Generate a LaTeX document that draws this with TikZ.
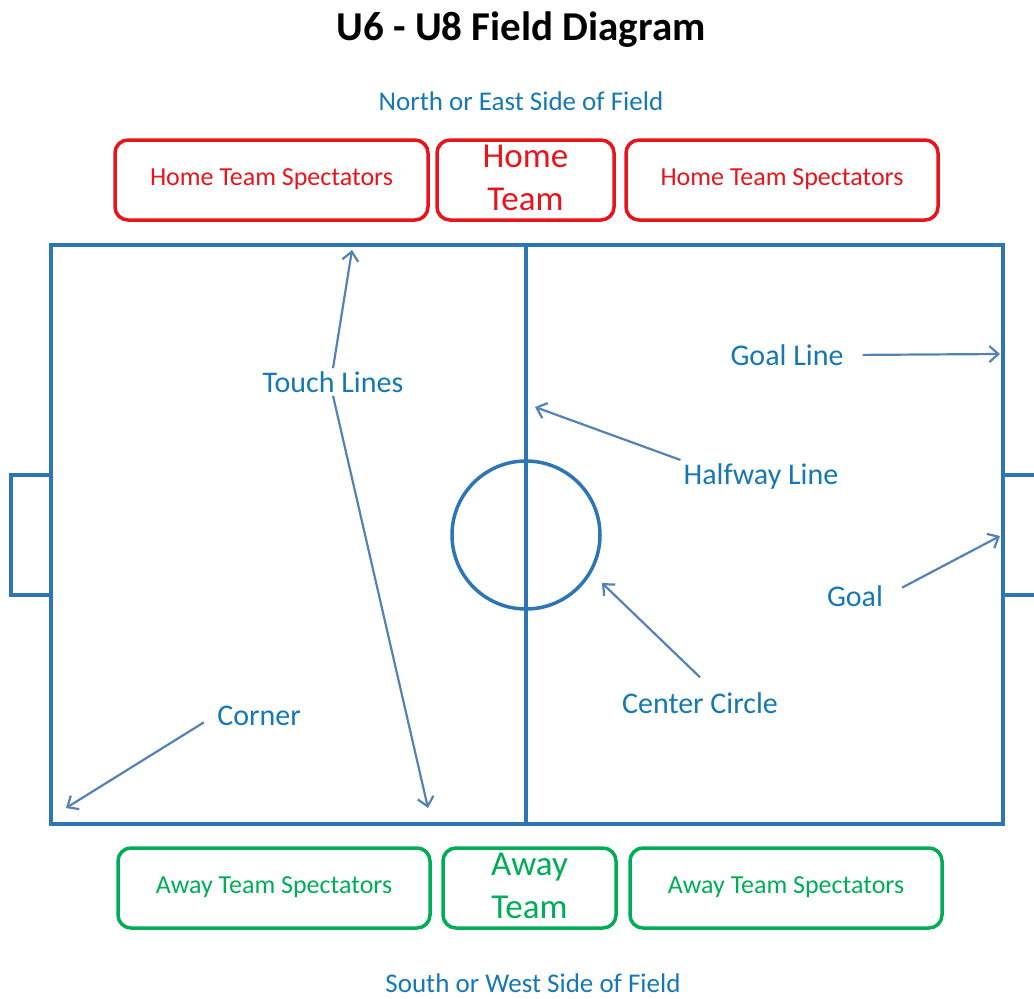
\documentclass[tikz,border=0pt]{standalone}
\usepackage{fontspec}
\setmainfont{Carlito}
\usetikzlibrary{arrows.meta}
\definecolor{fieldblue}{RGB}{46,117,182}
\definecolor{arrowblue}{RGB}{84,130,180}
\definecolor{labelblue}{RGB}{22,120,178}
\definecolor{homered}{RGB}{232,20,28}
\definecolor{awaygreen}{RGB}{0,172,86}
\tikzset{
  fieldline/.style={draw=fieldblue,line width=3.5pt},
  pointer/.style={arrowblue,line width=2.2pt,-{Straight Barb[length=9pt,width=16pt,line width=2.2pt]}},
  lbl/.style={text=labelblue,font=\fontsize{30}{32}\selectfont,inner sep=3pt},
  side/.style={text=labelblue,font=\fontsize{27}{30}\selectfont},
  stand/.style={rounded corners=13pt,line width=3.5pt,minimum height=80pt,text depth=5pt,font=\fontsize{26}{28}\selectfont},
  bench/.style={stand,font=\fontsize{35}{43}\selectfont,align=center,inner sep=0pt},
}
\begin{document}
\begin{tikzpicture}[x=1pt,y=-1pt]
\useasboundingbox (0,0) rectangle (1034,999);

\node[font=\bfseries\fontsize{41}{44}\selectfont] (title) at(521,30){U6 - U8 Field Diagram};
\node[side] (north) at(521,101){North or East Side of Field};
\node[side] (south) at(533,983){South or West Side of Field};

\node[stand,draw=homered,text=homered,minimum width=313pt] (homeL) at(271.5,180){Home Team Spectators};
\node[bench,draw=homered,text=homered,minimum width=177pt] (home) at(525.5,180){Home\\Team};
\node[stand,draw=homered,text=homered,minimum width=312pt] (homeR) at(782,180){Home Team Spectators};

\node[stand,draw=awaygreen,text=awaygreen,minimum width=312pt] (awayL) at(274,888){Away Team Spectators};
\node[bench,draw=awaygreen,text=awaygreen,minimum width=173pt] (away) at(529.5,888){Away\\Team};
\node[stand,draw=awaygreen,text=awaygreen,minimum width=312pt] (awayR) at(786,888){Away Team Spectators};

\begin{scope}
\clip (0,0) rectangle (1034,999);
\draw[fieldline](51,245) rectangle (1003,824);
\draw[fieldline](526,245)--(526,824);
\draw[fieldline](526,535) circle[radius=74];
\draw[fieldline](51,475)--(11,475)--(11,595)--(51,595);
\draw[fieldline](1003,475)--(1045,475);
\draw[fieldline](1003,595)--(1045,595);
\end{scope}

\coordinate (touchtop) at(352,250);
\coordinate (touchbot) at(428,808);
\coordinate (goallinept) at(1000,354);
\coordinate (halfwaypt) at(535,407);
\coordinate (goalpt) at(1000,536);
\coordinate (circlept) at(602,583);
\coordinate (cornerpt) at(66,808);

\node[lbl] (touch) at(333,382){Touch Lines};
\node[lbl] (goalline) at(787,355){Goal Line};
\node[lbl] (halfway) at(761,476){Halfway Line};
\node[lbl] (goal) at(855,596){Goal};
\node[lbl] (centre) at(700,703){Center Circle};
\node[lbl] (corner) at(259,716){Corner};

\draw[pointer](touch.north)--(touchtop);
\draw[pointer](touch.south)--(touchbot);
\draw[pointer,shorten <=16pt](goalline.east)--(goallinept);
\draw[pointer](halfway.north west)--(halfwaypt);
\draw[pointer,shorten <=18pt](goal.east)--(goalpt);
\draw[pointer]([yshift=12pt]centre.north)--(circlept);
\draw[pointer,shorten <=12pt](corner.west)--(cornerpt);
\end{tikzpicture}
\end{document}
